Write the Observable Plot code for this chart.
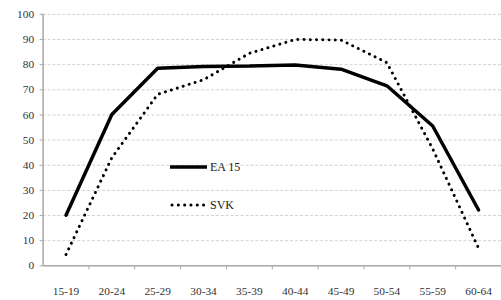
<!DOCTYPE html>
<html>
<head>
<meta charset="utf-8">
<script src="https://cdn.jsdelivr.net/npm/d3@7"></script>
<script src="https://cdn.jsdelivr.net/npm/@observablehq/plot@0.6"></script>
<style>
  html, body { margin: 0; padding: 0; background: #fff; overflow: hidden; }
  #wrap { position: relative; width: 501px; height: 300px; overflow: hidden; }
  #legend { position: absolute; left: 170px; top: 157px; font-family: 'Liberation Serif', 'Times New Roman', serif; font-size: 12px; color: #222; }
  .item { display: flex; align-items: center; height: 20px; margin-bottom: 18px; }
  .item svg { margin-right: 3px; }
  svg text { font-family: 'Liberation Serif', 'Times New Roman', serif; }
</style>
</head>
<body>
<div id="wrap"><div id="chart"></div><div id="legend"></div></div>
<script>
const categories = ["15-19","20-24","25-29","30-34","35-39","40-44","45-49","50-54","55-59","60-64"];
const ea15 = [20.1, 60.2, 78.6, 79.3, 79.5, 79.9, 78.2, 71.6, 55.6, 22.2];
const svk  = [4.5, 43.0, 68.2, 74.0, 84.5, 90.0, 89.8, 80.8, 46.5, 7.0];
const yTicks = [0,10,20,30,40,50,60,70,80,90,100];
const seriesNames = ["EA 15", "SVK"];

const rows = [];
categories.forEach((c, i) => {
  rows.push({series: seriesNames[0], cat: c, i: i + 0.5, v: ea15[i]});
  rows.push({series: seriesNames[1], cat: c, i: i + 0.5, v: svk[i]});
});

const font = "'Liberation Serif', 'Times New Roman', serif";
const chart = Plot.plot({
  width: 506,
  height: 300,
  marginLeft: 43,
  marginRight: 0,
  marginTop: 14,
  marginBottom: 32,
  style: {fontFamily: font, fontSize: "11.5px", color: "#333", background: "#fff"},
  x: {domain: [0, categories.length], axis: null},
  y: {domain: [0, 100], axis: null},
  marks: [
    Plot.ruleY(yTicks.filter(d => d > 0), {stroke: "#d0d0d0", strokeWidth: 1, strokeDasharray: "3,2"}),
    Plot.axisY({ticks: yTicks, label: null, tickSize: 3, tickPadding: 6, stroke: "#a8a8a8", fill: "#333", fontSize: 11.5}),
    Plot.axisX({ticks: d3.range(1, categories.length + 1), label: null, tickSize: 4, tickFormat: () => "", stroke: "#a8a8a8"}),
    Plot.axisX({ticks: categories.map((c, i) => i + 0.5), label: null, tickSize: 0, tickPadding: 21, tickFormat: t => categories[Math.floor(t)], fill: "#333", fontSize: 11.5}),
    Plot.ruleY([0], {stroke: "#a8a8a8", strokeWidth: 1.5}),
    Plot.ruleX([0], {stroke: "#a8a8a8", strokeWidth: 1.5}),
    Plot.line(rows.filter(d => d.series === seriesNames[0]), {x: "i", y: "v", stroke: "#000", strokeWidth: 3.5, strokeLinejoin: "miter"}),
    Plot.line(rows.filter(d => d.series === seriesNames[1]), {x: "i", y: "v", stroke: "#000", strokeWidth: 3, strokeDasharray: "0.1,6.2", strokeLinecap: "round"})
  ]
});
document.getElementById("chart").appendChild(chart);

const legend = document.getElementById("legend");
legend.innerHTML = `
  <div class="item"><svg width="37" height="6"><line x1="0" y1="3" x2="37" y2="3" stroke="#000" stroke-width="3.5"/></svg><span>${seriesNames[0]}</span></div>
  <div class="item"><svg width="37" height="6"><line x1="2" y1="3" x2="37" y2="3" stroke="#000" stroke-width="3" stroke-dasharray="0.1,6.2" stroke-linecap="round"/></svg><span>${seriesNames[1]}</span></div>`;
</script>
</body>
</html>
